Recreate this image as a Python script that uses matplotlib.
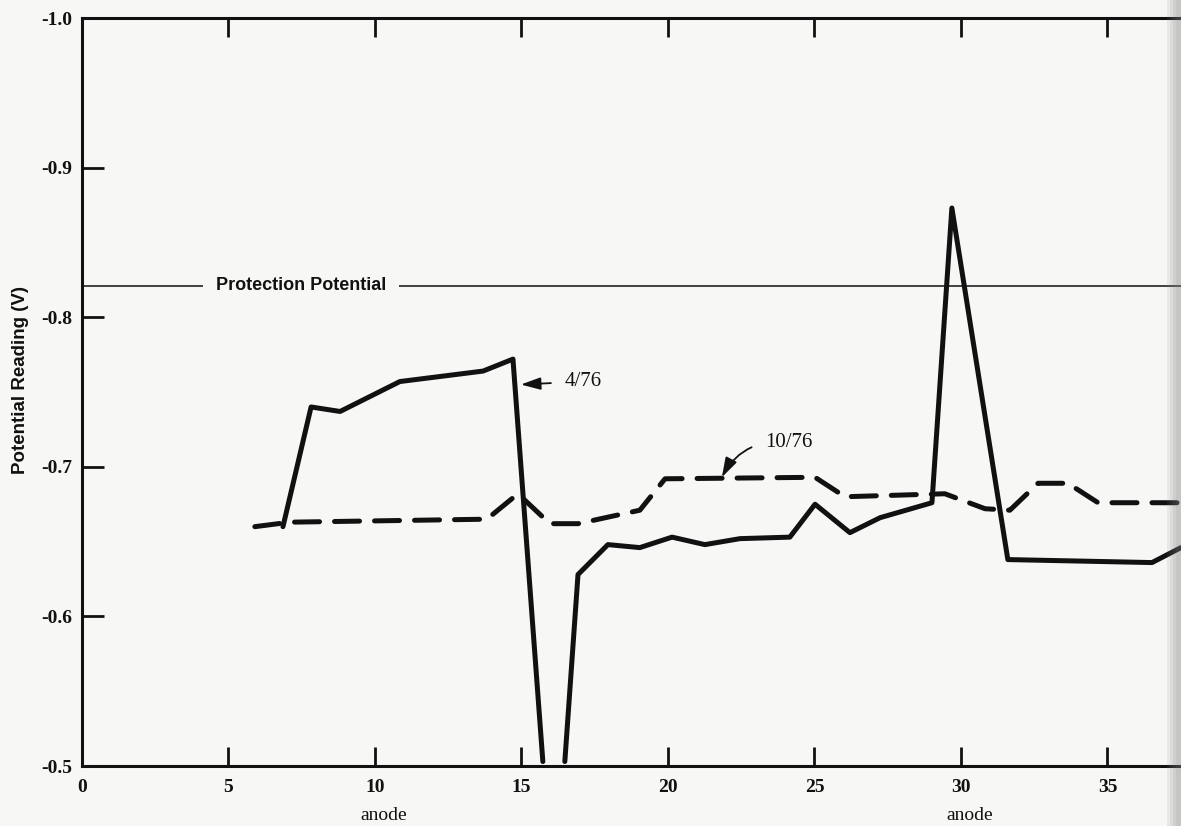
import numpy as np
import matplotlib
matplotlib.use("Agg")
import matplotlib.pyplot as plt
from matplotlib.patches import Rectangle
from matplotlib.transforms import blended_transform_factory

plt.rcParams['axes.unicode_minus'] = False

BG = '#f7f7f5'
INK = '#111111'

# readings for 4/76 (solid); the gap marks the off-scale readings near anode 16
anode_apr = [6.86, 7.82, 8.81, 9.83, 10.85, 13.69, 14.71, 15.73, 16.1, 16.48, 16.93,
             17.95, 19.04, 20.14, 21.26, 22.46, 24.16, 25.02, 26.21, 27.24, 29.01,
             29.69, 31.60, 36.52, 37.51]
pot_apr = [-0.660, -0.740, -0.737, -0.747, -0.757, -0.764, -0.772, -0.503, np.nan, -0.503, -0.628,
           -0.648, -0.646, -0.653, -0.648, -0.652, -0.653, -0.675, -0.656, -0.666, -0.676,
           -0.873, -0.638, -0.636, -0.646]

# readings for 10/76 (dashed)
anode_oct = [5.90, 7.10, 13.82, 14.88, 15.97, 16.93, 19.04, 19.90, 25.02, 26.04,
             29.45, 30.82, 31.67, 32.63, 33.65, 34.68, 37.51]
pot_oct = [-0.660, -0.663, -0.665, -0.682, -0.662, -0.662, -0.671, -0.692, -0.693, -0.680,
           -0.682, -0.672, -0.671, -0.689, -0.689, -0.676, -0.676]

protection = -0.821

xticks = [0, 5, 10, 15, 20, 25, 30, 35]
yticks = [-1.0, -0.9, -0.8, -0.7, -0.6, -0.5]
ytick_labels = ['-1.0', '-0.9', '-0.8', '-0.7', '-0.6', '-0.5']

fig = plt.figure(figsize=(11.81, 8.26), dpi=100, facecolor=BG)
ax = fig.add_axes([0.0694, 0.0726, 0.9306, 0.9056], facecolor=BG)

ax.plot(anode_apr, pot_apr, color=INK, lw=3.6, solid_joinstyle='round',
        solid_capstyle='round', zorder=3)
ax.plot(anode_oct, pot_oct, color=INK, lw=3.6, dashes=(5, 3),
        dash_capstyle='round', dash_joinstyle='round', zorder=3)

ax.axhline(protection, color=INK, lw=1.1, zorder=2)
ax.text(4.57, protection, 'Protection Potential', ha='left', va='center',
        fontsize=13, fontweight='bold', family='Liberation Sans', color=INK, zorder=4,
        bbox=dict(facecolor=BG, edgecolor='none', pad=9.5))

ax.annotate('4/76', xy=(14.98, -0.755), xytext=(16.48, -0.757),
            ha='left', va='center', fontsize=15, family='Liberation Serif', color=INK,
            arrowprops=dict(arrowstyle='-|>,head_length=0.8,head_width=0.25',
                            color=INK, lw=1.3, shrinkA=8, shrinkB=0))
ax.annotate('10/76', xy=(21.84, -0.693), xytext=(23.31, -0.716),
            ha='left', va='center', fontsize=15, family='Liberation Serif', color=INK,
            arrowprops=dict(arrowstyle='-|>,head_length=0.8,head_width=0.25',
                            color=INK, lw=1.3, shrinkA=8, shrinkB=0,
                            connectionstyle='arc3,rad=0.35'))

ax.set_xlim(0, 37.51)
ax.set_ylim(-0.5, -1.0)

ax.set_xticks(xticks)
ax.set_xticklabels([str(t) for t in xticks], fontsize=14, fontweight='bold',
                   family='Liberation Serif')
ax.set_yticks(yticks)
ax.set_yticklabels(ytick_labels, fontsize=14, fontweight='bold',
                   family='Liberation Serif')
ax.tick_params(axis='x', direction='in', length=14, width=2, top=True, pad=9, colors=INK)
ax.tick_params(axis='y', direction='in', length=16, width=2, pad=7, colors=INK)

for side in ['left', 'bottom', 'top']:
    ax.spines[side].set_linewidth(2.2)
    ax.spines[side].set_color(INK)
ax.spines['right'].set_visible(False)

trans = blended_transform_factory(ax.transData, ax.transAxes)
for xa in [10.3, 30.3]:
    ax.text(xa, -0.066, 'anode', transform=trans, ha='center', va='center',
            fontsize=14, family='Liberation Serif', color=INK)

ax.text(-0.056, 0.516, 'Potential Reading (V)', transform=ax.transAxes,
        rotation=90, ha='center', va='center', fontsize=13.5, fontweight='bold',
        family='Liberation Sans', color=INK)

# soft scan shadow at the right page edge
for i, left in enumerate([0.9885, 0.991, 0.9935, 0.996]):
    fig.add_artist(Rectangle((left, 0), 1 - left, 1, transform=fig.transFigure,
                             facecolor='#808080', edgecolor='none',
                             alpha=0.12, zorder=10))

fig.savefig('out.png', dpi=100, facecolor=BG)
